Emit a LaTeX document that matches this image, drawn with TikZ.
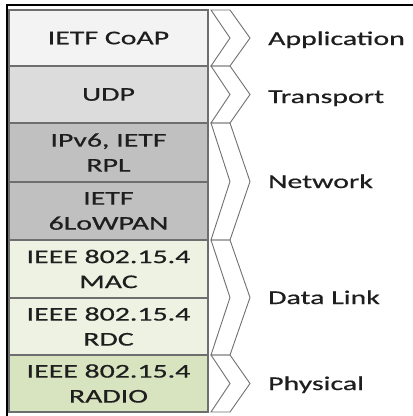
\documentclass[tikz,border=0pt]{standalone}
\usepackage{fontspec}
\setmainfont{Carlito}[FakeStretch=1.53,FakeBold=0.6]
\definecolor{txt}{HTML}{1E1E1E}
\definecolor{bord}{HTML}{6E6E6E}
\definecolor{chevc}{HTML}{707070}
\definecolor{cA}{HTML}{F3F3F3}
\definecolor{cB}{HTML}{DCDCDC}
\definecolor{cC}{HTML}{C0C0C0}
\definecolor{cD}{HTML}{EEF2E2}
\definecolor{cE}{HTML}{D8E4BF}
\begin{document}
\begin{tikzpicture}[x=1pt,y=-1pt,
  box/.style={draw=bord,line width=1.1pt,minimum width=199pt,inner sep=0pt,align=center,
    text=txt,font=\fontsize{19.5}{25}\selectfont},
  chev/.style={draw=chevc,line width=0.9pt,line join=miter},
  lay/.style={anchor=base west,inner sep=0pt,text=txt,font=\fontsize{19.5}{25}\selectfont}]
\useasboundingbox (0,0) rectangle (413,416);
\fill[white] (0,0) rectangle (413,416);
% boxes
\node[box,fill=cA,minimum height=56pt] (coap) at (108.5,38) {IETF CoAP};
\node[box,fill=cB,minimum height=57pt] (udp) at (108.5,94.5) {UDP};
\node[box,fill=cC,minimum height=59pt] (ipv6) at (108.5,152.5) {IPv6, IETF\\RPL};
\node[box,fill=cC,minimum height=58pt] (lowpan) at (108.5,211) {IETF\\6LoWPAN};
\node[box,fill=cD,minimum height=58pt] (mac) at (108.5,269) {IEEE 802.15.4\\MAC};
\node[box,fill=cD,minimum height=57pt] (rdc) at (108.5,326.5) {IEEE 802.15.4\\RDC};
\node[box,fill=cE,minimum height=57pt] (radio) at (108.5,383.5) {IEEE 802.15.4\\RADIO};
% chevrons
\draw[chev] (211,10) -- (230,10) -- (250,38) -- (230,66) -- (211,66) -- (230,38) -- cycle;
\draw[chev] (211,66) -- (230,66) -- (250,94.5) -- (230,123) -- (211,123) -- (230,94.5) -- cycle;
\draw[chev] (211,123) -- (230,123) -- (250,181.5) -- (230,240) -- (211,240) -- (230,181.5) -- cycle;
\draw[chev] (211,240) -- (230,240) -- (250,297.5) -- (230,355) -- (211,355) -- (230,297.5) -- cycle;
\draw[chev] (211,355) -- (230,355) -- (250,383.5) -- (230,412) -- (211,412) -- (230,383.5) -- cycle;
% layer labels
\node[lay] (app) at (268,45) {Application};
\node[lay] (trans) at (268,103) {Transport};
\node[lay] (net) at (268,188) {Network};
\node[lay] (dl) at (268,304) {Data Link};
\node[lay] (phy) at (268,390) {Physical};
% frame lines
\draw[black,line width=1.3pt] (7,416) -- (7,5) -- (413,5);
\end{tikzpicture}
\end{document}
